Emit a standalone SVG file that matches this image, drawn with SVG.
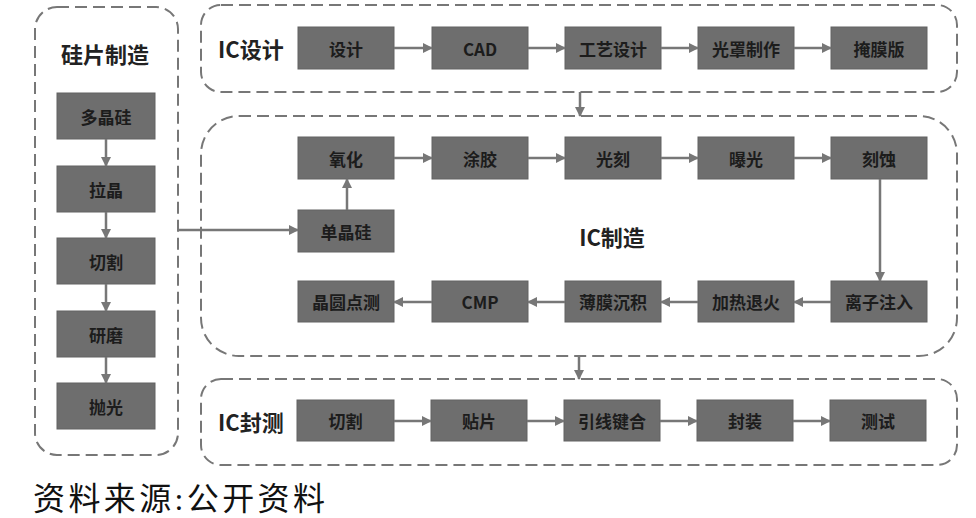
<svg xmlns="http://www.w3.org/2000/svg" width="976" height="518" viewBox="0 0 976 518">
<defs>
<style>
.panel{fill:none;stroke:#777;stroke-width:2;stroke-dasharray:12 6}
.box rect{fill:#6e6e6e;stroke:#626262;stroke-width:1}
.box text{font-family:"Noto Sans CJK SC","Liberation Sans",sans-serif;font-weight:700;font-size:17px;fill:#1c1c1c;text-anchor:middle;dominant-baseline:central}
.title{font-family:"Noto Sans CJK SC","Liberation Sans",sans-serif;font-weight:700;font-size:22px;fill:#222;dominant-baseline:central}
.conn line,.conn path{stroke:#777;stroke-width:2.5;fill:none;marker-end:url(#ah)}
.src{font-family:"Liberation Serif","Noto Sans CJK SC",serif;font-size:32px;fill:#111}
</style>
<marker id="ah" viewBox="0 0 10 10" refX="9" refY="5" markerWidth="4" markerHeight="4" orient="auto" markerUnits="strokeWidth">
<path d="M0,0 L10,5 L0,10 Z" fill="#777"/>
</marker>
</defs>
<rect width="976" height="518" fill="#fff"/>

<g id="panel-wafer"><rect class="panel" x="35" y="7" width="143" height="448" rx="22"/><text class="title" x="105" y="53" text-anchor="middle">硅片制造</text></g>
<g id="panel-design"><rect class="panel" x="201" y="5" width="756" height="87" rx="20"/><text class="title" x="218" y="48">IC设计</text></g>
<g id="panel-fab"><rect class="panel" x="201" y="116" width="756" height="240" rx="38"/><text class="title" x="612" y="236" text-anchor="middle">IC制造</text></g>
<g id="panel-pack"><rect class="panel" x="201" y="379" width="756" height="86" rx="20"/><text class="title" x="218" y="421">IC封测</text></g>

<g id="n-duojinggui" class="box"><rect x="57" y="93" width="98" height="46"/><text x="106" y="116">多晶硅</text></g>
<g id="n-lajing" class="box"><rect x="57" y="166" width="98" height="46"/><text x="106" y="189">拉晶</text></g>
<g id="n-qiege1" class="box"><rect x="57" y="238" width="98" height="46"/><text x="106" y="261">切割</text></g>
<g id="n-yanmo" class="box"><rect x="57" y="311" width="98" height="46"/><text x="106" y="334">研磨</text></g>
<g id="n-paoguang" class="box"><rect x="57" y="383" width="98" height="46"/><text x="106" y="406">抛光</text></g>

<g id="n-sheji" class="box"><rect x="298" y="27" width="96" height="42"/><text x="346" y="48">设计</text></g>
<g id="n-cad" class="box"><rect x="432" y="27" width="96" height="42"/><text x="480" y="48">CAD</text></g>
<g id="n-gongyi" class="box"><rect x="565" y="27" width="96" height="42"/><text x="613" y="48">工艺设计</text></g>
<g id="n-guangzhao" class="box"><rect x="698" y="27" width="96" height="42"/><text x="746" y="48">光罩制作</text></g>
<g id="n-yanmoban" class="box"><rect x="831" y="27" width="96" height="42"/><text x="879" y="48">掩膜版</text></g>

<g id="n-yanghua" class="box"><rect x="298" y="137" width="96" height="42"/><text x="346" y="158">氧化</text></g>
<g id="n-tujiao" class="box"><rect x="432" y="137" width="96" height="42"/><text x="480" y="158">涂胶</text></g>
<g id="n-guangke" class="box"><rect x="565" y="137" width="96" height="42"/><text x="613" y="158">光刻</text></g>
<g id="n-baoguang" class="box"><rect x="698" y="137" width="96" height="42"/><text x="746" y="158">曝光</text></g>
<g id="n-keshi" class="box"><rect x="831" y="137" width="96" height="42"/><text x="879" y="158">刻蚀</text></g>
<g id="n-danjinggui" class="box"><rect x="298" y="210" width="96" height="42"/><text x="346" y="231">单晶硅</text></g>

<g id="n-dianche" class="box"><rect x="298" y="281" width="96" height="41"/><text x="346" y="301.5">晶圆点测</text></g>
<g id="n-cmp" class="box"><rect x="432" y="281" width="96" height="41"/><text x="480" y="301.5">CMP</text></g>
<g id="n-bomo" class="box"><rect x="565" y="281" width="96" height="41"/><text x="613" y="301.5">薄膜沉积</text></g>
<g id="n-tuihuo" class="box"><rect x="698" y="281" width="96" height="41"/><text x="746" y="301.5">加热退火</text></g>
<g id="n-lizi" class="box"><rect x="831" y="281" width="96" height="41"/><text x="879" y="301.5">离子注入</text></g>

<g id="n-qiege2" class="box"><rect x="297" y="400" width="97" height="41"/><text x="345.5" y="420.5">切割</text></g>
<g id="n-tiepian" class="box"><rect x="431" y="400" width="96" height="41"/><text x="479" y="420.5">贴片</text></g>
<g id="n-yinxian" class="box"><rect x="564" y="400" width="96" height="41"/><text x="612" y="420.5">引线键合</text></g>
<g id="n-fengzhuang" class="box"><rect x="697" y="400" width="96" height="41"/><text x="745" y="420.5">封装</text></g>
<g id="n-ceshi" class="box"><rect x="830" y="400" width="96" height="41"/><text x="878" y="420.5">测试</text></g>

<g id="connectors" class="conn">
<line x1="106" y1="139" x2="106" y2="166"/>
<line x1="106" y1="212" x2="106" y2="238"/>
<line x1="106" y1="284" x2="106" y2="311"/>
<line x1="106" y1="357" x2="106" y2="383"/>
<line x1="178" y1="230" x2="298" y2="230"/>
<line x1="347" y1="210" x2="347" y2="179"/>
<line x1="394" y1="48" x2="432" y2="48"/>
<line x1="528" y1="48" x2="565" y2="48"/>
<line x1="661" y1="48" x2="698" y2="48"/>
<line x1="794" y1="48" x2="831" y2="48"/>
<line x1="580" y1="92" x2="580" y2="116"/>
<line x1="394" y1="158" x2="432" y2="158"/>
<line x1="528" y1="158" x2="565" y2="158"/>
<line x1="661" y1="158" x2="698" y2="158"/>
<line x1="794" y1="158" x2="831" y2="158"/>
<line x1="880" y1="179" x2="880" y2="281"/>
<line x1="831" y1="302" x2="794" y2="302"/>
<line x1="698" y1="302" x2="661" y2="302"/>
<line x1="565" y1="302" x2="528" y2="302"/>
<line x1="432" y1="302" x2="394" y2="302"/>
<line x1="579" y1="356" x2="579" y2="379"/>
<line x1="394" y1="421" x2="431" y2="421"/>
<line x1="527" y1="421" x2="564" y2="421"/>
<line x1="660" y1="421" x2="697" y2="421"/>
<line x1="793" y1="421" x2="830" y2="421"/>
</g>

<text class="src" x="33" y="510" textLength="292" lengthAdjust="spacing">资料来源:公开资料</text>
</svg>
